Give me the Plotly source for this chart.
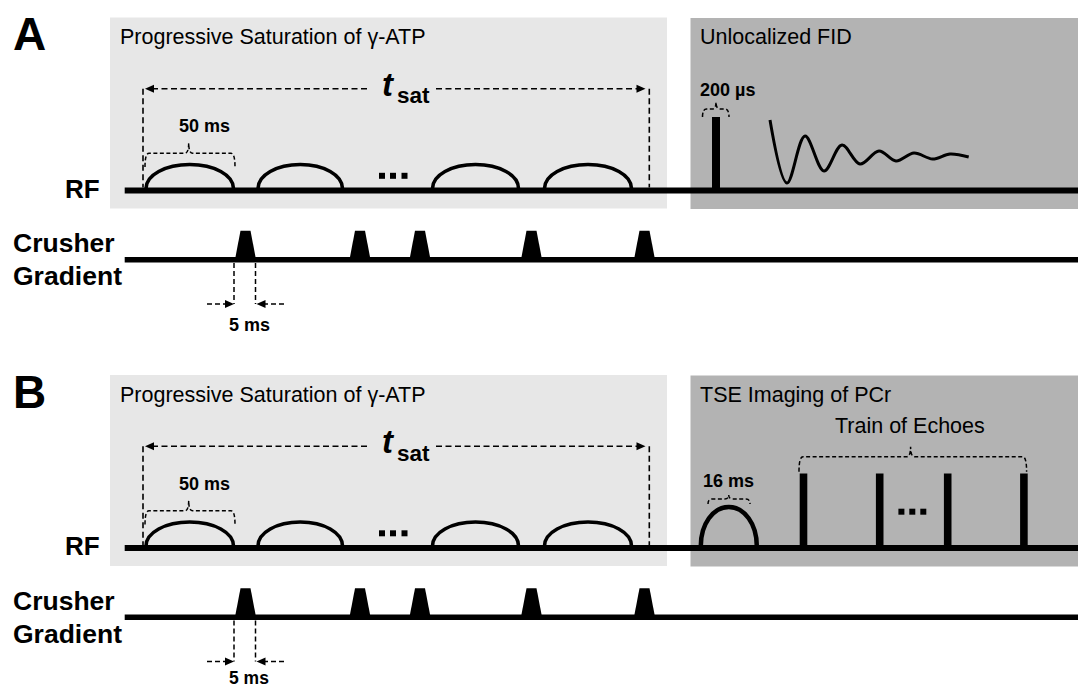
import plotly.graph_objects as go

W, H = 1078, 689
FONT = "Liberation Sans, Arial, sans-serif"

# ---------------- data (pixel-space schematic) ----------------
PANEL_DY = [0.0, 357.5]
PANEL_LETTERS = ["A", "B"]
LEFT_TITLE = "Progressive Saturation of γ-ATP"
RIGHT_TITLES = ["Unlocalized FID", "TSE Imaging of PCr"]

SAT_START = [144.5, 256.5, 431.0, 543.0]      # saturation RF pulses
SAT_END = [235.0, 344.0, 520.0, 633.0]
CRUSHER_X = [245.5, 360.0, 420.0, 531.5, 644.5]  # crusher gradient lobes (centres)
ECHO_X = [803.5, 879.7, 947.7, 1023.9]        # refocusing pulses (train of echoes)
FID_X = [770, 787, 805, 824, 842, 860, 879, 896, 914, 932.6, 950, 968.7]
FID_Y = [120, 183, 136, 171, 145, 164, 151, 161, 153, 159, 154, 157]
SAT_DOTS_X = [382.0, 393.0, 404.5]
ECHO_DOTS_X = [901.4, 912.3, 923.3]

# ---------------- geometry / style ----------------
RF_Y = 190.5
GR_Y = 259.8
LINE_X0 = 124.7
LIGHT = "#e7e7e7"
DARK = "#b3b3b3"

shapes = []
annotations = []
traces = []


def rect(x0, y0, x1, y1, color, layer="above"):
    shapes.append(dict(type="rect", xref="x", yref="y", x0=x0, y0=y0, x1=x1, y1=y1,
                       fillcolor=color, line=dict(width=0), layer=layer))


def line(x0, y0, x1, y1, w, dash="solid"):
    shapes.append(dict(type="line", xref="x", yref="y", x0=x0, y0=y0, x1=x1, y1=y1,
                       line=dict(color="black", width=w, dash=dash)))


def path(d, w=0, fill=None, dash="solid"):
    s = dict(type="path", xref="x", yref="y", path=d,
             line=dict(color="black", width=w, dash=dash))
    if fill:
        s["fillcolor"] = fill
    shapes.append(s)


def arch(x0, x1, yb, yt, w):
    cx = (x0 + x1) / 2
    rx = (x1 - x0) / 2
    ry = yb - yt
    k = 0.56
    d = (f"M {x0},{yb} C {x0},{yb - k * ry} {cx - k * rx},{yt} {cx},{yt} "
         f"C {cx + k * rx},{yt} {x1},{yb - k * ry} {x1},{yb}")
    path(d, w=w)


def brace(x0, x1, xm, y, yend, ytip):
    r = 4
    d = (f"M {x0},{yend} Q {x0},{y} {x0 + r},{y} L {xm - r},{y} Q {xm},{y} {xm},{ytip} "
         f"Q {xm},{y} {xm + r},{y} L {x1 - r},{y} Q {x1},{y} {x1},{yend}")
    path(d, w=1.5, dash="4px,2.5px")


def arrowhead(xt, y, direction):
    L, h = 9, 4
    xb = xt - L * direction
    path(f"M {xt},{y} L {xb},{y - h} L {xb},{y + h} Z", w=0, fill="black")


def text(x, y, s, size, bold=False, italic=False, xanchor="left", yanchor="middle", pad=1):
    t = s
    if italic:
        t = f"<i>{t}</i>"
    if bold:
        t = f"<b>{t}</b>"
    annotations.append(dict(x=x, y=y, xref="x", yref="y", text=t, showarrow=False,
                            xanchor=xanchor, yanchor=yanchor, borderpad=pad,
                            font=dict(family=FONT, size=size, color="black")))


for p, dy in enumerate(PANEL_DY):
    # background boxes
    rect(110, 17.5 + dy, 667, 208.5 + dy, LIGHT, layer="below")
    rect(690.5, 18 + dy, W, 209 + dy, DARK, layer="below")

    # labels
    text(11, 34 + dy, PANEL_LETTERS[p], 46, bold=True)
    text(102, RF_Y - 2 + dy, "RF", 26, bold=True, xanchor="right")
    text(11, 243 + dy, "Crusher", 26.5, bold=True)
    text(11, 276 + dy, "Gradient", 26.5, bold=True)
    text(118, 37 + dy, LEFT_TITLE, 21.5)
    text(698, 37 + dy, RIGHT_TITLES[p], 21.5)

    # baselines
    line(LINE_X0, RF_Y + dy, W, RF_Y + dy, 6)
    line(LINE_X0, GR_Y + dy, W, GR_Y + dy, 5.5)

    # saturation pulses
    for a, b in zip(SAT_START, SAT_END):
        arch(a + 1.5, b - 1.5, RF_Y - 2 + dy, 164.5 + dy, 3.6)
    traces.append(go.Scatter(x=SAT_DOTS_X, y=[175.8 + dy] * 3, mode="markers",
                             marker=dict(symbol="square", size=6, color="black"),
                             hoverinfo="skip", showlegend=False))

    # crusher gradients
    for c in CRUSHER_X:
        yb = GR_Y + 1 + dy
        yt = 230.7 + dy
        path(f"M {c - 10.75},{yb} L {c - 5},{yt} L {c + 5},{yt} L {c + 10.75},{yb} Z",
             w=0, fill="black")

    # t_sat arrow
    ya = 88.7 + dy
    line(143, ya, 143, RF_Y - 3 + dy, 1.6, dash="6px,3.5px")
    line(649.3, ya, 649.3, RF_Y - 3 + dy, 1.6, dash="6px,3.5px")
    line(152, ya, 370, ya, 1.6, dash="6px,3.5px")
    line(436, ya, 637, ya, 1.6, dash="6px,3.5px")
    arrowhead(145, ya, -1)
    arrowhead(645.5, ya, 1)
    text(396, 84 + dy, "t", 33, bold=True, italic=True, xanchor="right", pad=0)
    text(396, 95.5 + dy, "sat", 22.5, bold=True, xanchor="left", pad=0)

    # 50 ms brace
    brace(145, 235, 188.7, 153.3 + dy, 167 + dy, 143 + dy)
    text(204, 126 + dy, "50 ms", 18, bold=True, xanchor="center")

    # 5 ms markers
    line(234, 263 + dy, 234, 304 + dy, 1.5, dash="5px,3px")
    line(255.5, 263 + dy, 255.5, 304 + dy, 1.5, dash="5px,3px")
    line(207, 304 + dy, 226, 304 + dy, 1.5, dash="5px,3px")
    arrowhead(234, 304 + dy, 1)
    line(284, 304 + dy, 265, 304 + dy, 1.5, dash="5px,3px")
    arrowhead(256.5, 304 + dy, -1)
    if p == 0:
        text(249, 325, "5 ms", 18, bold=True, xanchor="center")
    else:
        text(249, H - 0.5, "5 ms", 17.5, bold=True, xanchor="center", yanchor="bottom", pad=0)

    if p == 0:
        # hard pulse + FID
        rect(712, 117, 720, RF_Y, "black")
        brace(702.5, 729, 716, 109, 117, 102)
        text(698, 90, "200 µs", 18, bold=True)
        traces.append(go.Scatter(x=FID_X, y=FID_Y, mode="lines",
                                 line=dict(color="black", width=3, shape="spline", smoothing=1.0),
                                 hoverinfo="skip", showlegend=False))
    else:
        # TSE: excitation + echo train
        arch(700.8, 756.8, RF_Y - 2 + dy, 149.5 + dy, 4.5)
        brace(708, 750, 728.7, 141.5 + dy, 146.5 + dy, 137.5 + dy)
        text(728, 123.5 + dy, "16 ms", 18, bold=True, xanchor="center")
        for e in ECHO_X:
            rect(e - 3.8, 116 + dy, e + 3.8, RF_Y + dy, "black")
        brace(799, 1026.6, 910.6, 99.2 + dy, 114.2 + dy, 89.2 + dy)
        text(910, 68.5 + dy, "Train of Echoes", 21.5, xanchor="center")
        traces.append(go.Scatter(x=ECHO_DOTS_X, y=[154.2 + dy] * 3, mode="markers",
                                 marker=dict(symbol="square", size=6, color="black"),
                                 hoverinfo="skip", showlegend=False))

fig = go.Figure(data=traces)
fig.update_layout(
    width=W, height=H,
    margin=dict(l=0, r=0, t=0, b=0),
    paper_bgcolor="white", plot_bgcolor="white",
    xaxis=dict(range=[0, W], visible=False, fixedrange=True),
    yaxis=dict(range=[H, 0], visible=False, fixedrange=True),
    shapes=shapes, annotations=annotations, showlegend=False,
)
fig.write_html("out.html", config={"displayModeBar": False})
